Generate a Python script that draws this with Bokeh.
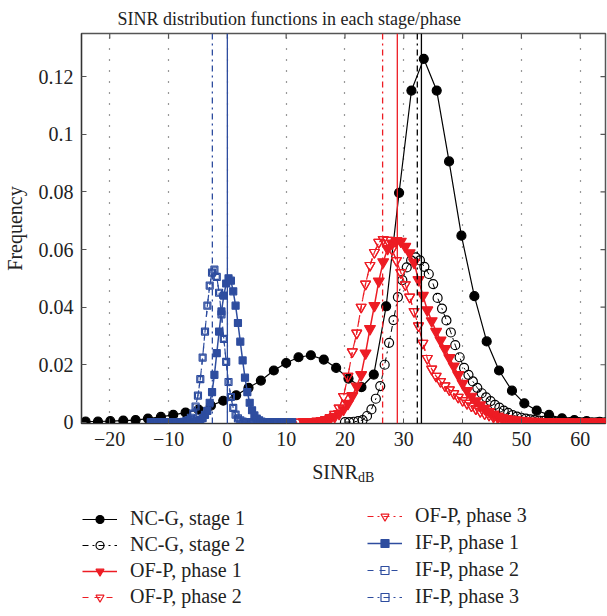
from bokeh.plotting import figure
from bokeh.layouts import column
from bokeh.models import Range1d, Span, Legend, LegendItem, Label, FixedTicker
from bokeh.embed import file_html
from bokeh.resources import INLINE

FONT = "Liberation Serif"
BLACK = "#000000"
RED = "#ED1C24"
BLUE = "#2E4D9F"
TXT = "#222222"

# ---------------- data ----------------
title_text = "SINR distribution functions in each stage/phase"
x_title = "SINR"
x_title_sub = "dB"
y_title = "Frequency"
x_ticks = [-20, -10, 0, 10, 20, 30, 40, 50, 60]
x_tick_labels = ["\u221220", "\u221210", "0", "10", "20", "30", "40", "50", "60"]
y_ticks = [0, 0.02, 0.04, 0.06, 0.08, 0.1, 0.12]
y_tick_labels = ["0", "0.02", "0.04", "0.06", "0.08", "0.1", "0.12"]

series_names = ["NC-G, stage 1", "NC-G, stage 2", "OF-P, phase 1", "OF-P, phase 2",
                "OF-P, phase 3", "IF-P, phase 1", "IF-P, phase 2", "IF-P, phase 3"]
# mean value lines (phase 2 lines coincide with phase 3 lines)
mean_values = [33.0, 32.3, 28.9, 26.4, 26.4, 0.0, -2.55, -2.55]

ncg1_x = [-24.1, -22.0, -19.9, -17.7, -15.6, -13.5, -11.3, -9.2, -7.1, -4.9, -2.8, -0.7, 1.5, 3.6,
          5.7, 7.9, 10.0, 12.1, 14.2, 16.4, 18.5, 20.6, 22.8, 24.9, 27.0, 29.2, 31.3, 33.4, 35.6,
          37.7, 39.8, 42.0, 44.1, 46.2, 48.4, 50.5, 52.6, 54.7, 56.9, 59.0, 61.1, 63.3, 65.4]
ncg1_y = [0.0003, 0.0003, 0.0004, 0.0006, 0.0008, 0.0013, 0.0019, 0.0026, 0.0034, 0.0044, 0.0058,
          0.0075, 0.0094, 0.0120, 0.0145, 0.0180, 0.0206, 0.0226, 0.0233, 0.0218, 0.0189, 0.0152,
          0.0122, 0.0166, 0.0403, 0.0797, 0.1152, 0.1262, 0.1152, 0.0906, 0.0648, 0.0438, 0.0281,
          0.0180, 0.0110, 0.0066, 0.0041, 0.0026, 0.0014, 0.0008, 0.0004, 0.0002, 0.0001]

ncg2_x = [20.0, 20.75, 21.5, 22.25, 23.0, 23.75, 24.5, 25.25, 26.0, 26.75, 27.5, 28.25, 29.0, 29.75,
          30.5, 31.25, 32.0, 32.75, 33.5, 34.25, 35.0, 35.75, 36.5, 37.25, 38.0, 38.75, 39.5, 40.25,
          41.0, 41.75, 42.5, 43.25, 44.0, 44.75, 45.5, 46.25, 47.0, 47.75, 48.5, 49.25, 50.0, 50.75,
          51.5, 52.25, 53.0, 53.75, 54.5, 55.25, 56.0, 56.75, 57.5, 58.25, 59.0, 59.75, 60.5, 61.25,
          62.0, 62.75, 63.5, 64.25]
ncg2_y = [0.0001, 0.0001, 0.0002, 0.0004, 0.0008, 0.0022, 0.0045, 0.0082, 0.0126, 0.0200, 0.0276,
          0.0355, 0.0435, 0.0494, 0.0538, 0.0562, 0.0573, 0.0562, 0.0540, 0.0515, 0.0480, 0.0432,
          0.0395, 0.0354, 0.0312, 0.0268, 0.0226, 0.0189, 0.0165, 0.0142, 0.0120, 0.0101, 0.0087,
          0.0074, 0.0061, 0.0051, 0.0041, 0.0033, 0.0025, 0.0020, 0.0016, 0.0013, 0.0010, 0.0008,
          0.0006, 0.0005, 0.0004, 0.0003, 0.0002, 0.0002, 0.0001, 0.0001, 0.0001, 0.0001, 0.0,
          0.0, 0.0, 0.0, 0.0, 0.0]

ofp1_x = [13.0, 13.75, 14.5, 15.25, 16.0, 16.75, 17.5, 18.25, 19.0, 19.75, 20.5, 21.25, 22.0, 22.75,
          23.5, 24.25, 25.0, 25.75, 26.5, 27.25, 28.0, 28.75, 29.5, 30.25, 31.0, 31.75, 32.5, 33.25,
          34.0, 34.75, 35.5, 36.25, 37.0, 37.75, 38.5, 39.25, 40.0, 40.75, 41.5, 42.25, 43.0, 43.75,
          44.5, 45.25, 46.0, 46.75, 47.5, 48.25, 49.0, 49.75, 50.5, 51.25, 52.0, 52.75, 53.5, 54.25,
          55.0, 55.75, 56.5, 57.25, 58.0, 58.75, 59.5, 60.25, 61.0, 61.75, 62.5, 63.25, 64.0, 64.75]
ofp1_y = [0.0001, 0.0001, 0.0002, 0.0003, 0.0005, 0.0008, 0.0013, 0.0020, 0.0030, 0.0045, 0.0065,
          0.0092, 0.0125, 0.0165, 0.0240, 0.0325, 0.0405, 0.0490, 0.0557, 0.0603, 0.0622, 0.0630,
          0.0628, 0.0610, 0.0588, 0.0555, 0.0495, 0.0440, 0.0390, 0.0352, 0.0315, 0.0285, 0.0255,
          0.0224, 0.0195, 0.0165, 0.0135, 0.0110, 0.0090, 0.0074, 0.0060, 0.0048, 0.0037, 0.0028,
          0.0021, 0.0016, 0.0012, 0.0010, 0.0008, 0.0006, 0.0005, 0.0004, 0.0003, 0.0003, 0.0002,
          0.0002, 0.0001, 0.0001, 0.0001, 0.0001, 0.0001, 0.0, 0.0, 0.0, 0.0, 0.0, 0.0, 0.0, 0.0, 0.0]

ofp2_x = [12.25, 13.0, 13.75, 14.5, 15.25, 16.0, 16.75, 17.5, 18.25, 19.0, 19.75, 20.5, 21.25, 22.0,
          22.75, 23.5, 24.25, 25.0, 25.75, 26.5, 27.25, 28.0, 28.75, 29.5, 30.25, 31.0, 31.75, 32.5,
          33.25, 34.0, 34.75, 35.5, 36.25, 37.0, 37.75, 38.5, 39.25, 40.0, 40.75, 41.5, 42.25, 43.0,
          43.75, 44.5, 45.25, 46.0, 46.75, 47.5, 48.25, 49.0, 49.75, 50.5, 51.25, 52.0, 52.75, 53.5,
          54.25, 55.0, 55.75, 56.5, 57.25, 58.0, 58.75, 59.5, 60.25, 61.0, 61.75, 62.5, 63.25, 64.0,
          64.75]
ofp2_y = [0.0001, 0.0001, 0.0002, 0.0003, 0.0004, 0.0006, 0.0010, 0.0017, 0.0028, 0.0050, 0.0090,
          0.0160, 0.0245, 0.0310, 0.0400, 0.0480, 0.0545, 0.0590, 0.0625, 0.0635, 0.0632, 0.0600,
          0.0562, 0.0520, 0.0478, 0.0435, 0.0385, 0.0335, 0.0275, 0.0222, 0.0185, 0.0160, 0.0142,
          0.0127, 0.0113, 0.0100, 0.0087, 0.0076, 0.0066, 0.0057, 0.0047, 0.0038, 0.0030, 0.0025,
          0.0019, 0.0015, 0.0012, 0.0009, 0.0007, 0.0005, 0.0004, 0.0003, 0.0002, 0.0002, 0.0001,
          0.0001, 0.0001, 0.0001, 0.0001, 0.0, 0.0, 0.0, 0.0, 0.0, 0.0, 0.0, 0.0, 0.0, 0.0, 0.0, 0.0]

ofp3_x = list(ofp2_x)
ofp3_y = [0.0001, 0.0001, 0.0002, 0.0003, 0.0004, 0.0006, 0.0010, 0.0017, 0.0028, 0.0050, 0.0090,
          0.0160, 0.0245, 0.0310, 0.0400, 0.0480, 0.0545, 0.0590, 0.0625, 0.0635, 0.0632, 0.0600,
          0.0562, 0.0520, 0.0478, 0.0435, 0.0385, 0.0335, 0.0275, 0.0222, 0.0185, 0.0160, 0.0142,
          0.0127, 0.0113, 0.0100, 0.0087, 0.0076, 0.0066, 0.0057, 0.0047, 0.0038, 0.0030, 0.0025,
          0.0019, 0.0015, 0.0012, 0.0009, 0.0007, 0.0005, 0.0004, 0.0003, 0.0002, 0.0002, 0.0001,
          0.0001, 0.0001, 0.0001, 0.0001, 0.0, 0.0, 0.0, 0.0, 0.0, 0.0, 0.0, 0.0, 0.0, 0.0, 0.0, 0.0]

ifp_x = [-13.0, -12.6, -12.2, -11.8, -11.4, -11.0, -10.6, -10.2, -9.8, -9.4, -9.0, -8.6, -8.2, -7.8,
         -7.4, -7.0, -6.6, -6.2, -5.8, -5.4, -5.0, -4.6, -4.2, -3.8, -3.4, -3.0, -2.6, -2.2, -1.8,
         -1.4, -1.0, -0.6, -0.2, 0.2, 0.6, 1.0, 1.4, 1.8, 2.2, 2.6, 3.0, 3.4, 3.8, 4.2, 4.6, 5.0,
         5.4, 5.8, 6.2, 6.6, 7.0, 7.4, 7.8, 8.2, 8.6, 9.0, 9.4, 9.8, 10.2, 10.6, 11.0]
ifp1_y = [0.0, 0.0, 0.0, 0.0, 0.0, 0.0, 0.0, 0.0, 0.0, 0.0, 0.0, 0.0, 0.0, 0.0, 0.0, 0.0, 0.0, 0.0,
          0.0, 0.0002, 0.0004, 0.0008, 0.0015, 0.0026, 0.0040, 0.0068, 0.0105, 0.0165, 0.0240,
          0.0315, 0.0385, 0.0440, 0.0482, 0.0500, 0.0492, 0.0455, 0.0405, 0.0345, 0.0280, 0.0215,
          0.0155, 0.0105, 0.0068, 0.0042, 0.0024, 0.0013, 0.0007, 0.0003, 0.0001, 0.0, 0.0, 0.0,
          0.0, 0.0, 0.0, 0.0, 0.0, 0.0, 0.0, 0.0, 0.0]
ifp2_y = [0.0, 0.0, 0.0, 0.0, 0.0, 0.0, 0.0, 0.0, 0.0, 0.0, 0.0, 0.0, 0.0, 0.0, 0.0002, 0.0004,
          0.0008, 0.0016, 0.0030, 0.0055, 0.0093, 0.0150, 0.0225, 0.0315, 0.0405, 0.0475, 0.0520,
          0.0530, 0.0505, 0.0450, 0.0375, 0.0290, 0.0210, 0.0140, 0.0088, 0.0050, 0.0027, 0.0014,
          0.0007, 0.0003, 0.0001, 0.0, 0.0, 0.0, 0.0, 0.0, 0.0, 0.0, 0.0, 0.0, 0.0, 0.0, 0.0, 0.0,
          0.0, 0.0, 0.0, 0.0, 0.0, 0.0, 0.0]
ifp3_y = list(ifp2_y)

series_data = [(ncg1_x, ncg1_y), (ncg2_x, ncg2_y), (ofp1_x, ofp1_y), (ofp2_x, ofp2_y),
               (ofp3_x, ofp3_y), (ifp_x, ifp1_y), (ifp_x, ifp2_y), (ifp_x, ifp3_y)]

# styles: color, line dash, marker, size, filled, line width
styles = [
    (BLACK, "solid", "circle", 9, True, 1.2),
    (BLACK, "dashdot", "circle", 9, False, 1.0),
    (RED, "solid", "inverted_triangle", 11, True, 1.5),
    (RED, "dashed", "inverted_triangle", 10, False, 1.2),
    (RED, "dashdot", "inverted_triangle", 10, False, 1.2),
    (BLUE, "solid", "square", 7, True, 1.5),
    (BLUE, "dashed", "square", 5, False, 1.2),
    (BLUE, "dashdot", "square", 7, False, 1.2),
]

# ---------------- geometry ----------------
W = 607
FRAME_LEFT, FRAME_RIGHT, FRAME_TOP, FRAME_H, BOTTOM = 81, 2, 33, 390, 33
H1 = FRAME_TOP + FRAME_H + BOTTOM
H2 = 616 - H1
XR = (-24.8, 64.3)
YR = (-0.0004, 0.135)

p = figure(width=W, height=H1, output_backend="svg", toolbar_location=None,
           x_range=Range1d(*XR), y_range=Range1d(*YR),
           min_border_left=FRAME_LEFT, min_border_right=FRAME_RIGHT,
           min_border_top=FRAME_TOP, min_border_bottom=BOTTOM)
p.background_fill_color = None
p.border_fill_color = "white"
p.outline_line_color = "#555555"
p.outline_line_width = 1.5

p.title.text = title_text
p.title.align = "left"
p.title.offset = 36
p.title.text_font = FONT
p.title.text_font_size = "18px"
p.title.text_font_style = "normal"
p.title.text_color = TXT
p.title.standoff = 9

for ax in (p.xaxis[0], p.yaxis[0]):
    ax.axis_line_color = "#333333"
    ax.axis_line_width = 1.2
    ax.major_tick_in = 5
    ax.major_tick_out = 0
    ax.major_tick_line_color = "#555555"
    ax.minor_tick_line_color = None
    ax.major_label_text_font = FONT
    ax.major_label_text_font_size = "20px"
    ax.major_label_text_color = TXT

p.xaxis.ticker = FixedTicker(ticks=x_ticks)
p.xaxis.major_label_overrides = {t: l for t, l in zip(x_ticks, x_tick_labels)}
p.xaxis.major_label_standoff = 8
p.yaxis.ticker = FixedTicker(ticks=y_ticks)
p.yaxis.major_label_overrides = {t: l for t, l in zip(y_ticks, y_tick_labels)}
p.yaxis.major_label_standoff = 8
p.yaxis.axis_label = y_title
p.yaxis.axis_label_text_font = FONT
p.yaxis.axis_label_text_font_size = "20px"
p.yaxis.axis_label_text_font_style = "normal"
p.yaxis.axis_label_text_color = TXT
p.yaxis.axis_label_standoff = 10

p.xgrid.ticker = FixedTicker(ticks=x_ticks)
p.xgrid.grid_line_color = "#333333"
p.xgrid.grid_line_dash = "1 10"
p.xgrid.grid_line_width = 1.2
p.ygrid.visible = False

# inward ticks on the top and right frame edges (derived from the tick lists)
frame_w = W - FRAME_LEFT - FRAME_RIGHT
tick_dy = 5 * (YR[1] - YR[0]) / FRAME_H
tick_dx = 5 * (XR[1] - XR[0]) / frame_w
p.segment(x0=x_ticks, y0=[YR[1]] * len(x_ticks), x1=x_ticks, y1=[YR[1] - tick_dy] * len(x_ticks),
          line_color="#555555", line_width=1.2)
p.segment(x0=[XR[1]] * len(y_ticks), y0=y_ticks, x1=[XR[1] - tick_dx] * len(y_ticks), y1=y_ticks,
          line_color="#555555", line_width=1.2)

# ---------------- series ----------------
for (xs, ys), (c, dash, mk, sz, filled, lw) in zip(series_data, styles):
    p.line(xs, ys, line_color=c, line_width=lw, line_dash=dash)
    p.scatter(xs, ys, marker=mk, size=sz, line_color=c, line_width=1.2,
              fill_color=c if filled else "white", fill_alpha=1.0 if filled else 0.0)

for m, (c, dash, mk, sz, filled, lw) in zip(mean_values, styles):
    if dash == "dashed":
        continue  # hidden under the coincident phase-3 line
    p.add_layout(Span(location=m, dimension="height", line_color=c, line_width=1.3, line_dash=dash))

# ---------------- lower panel: x title and legend ----------------
# the column aligns this panel's frame with the chart frame (x from FRAME_LEFT to W-FRAME_RIGHT)
q = figure(width=W, height=H2, output_backend="svg", toolbar_location=None,
           x_range=Range1d(FRAME_LEFT, W - FRAME_RIGHT), y_range=Range1d(0, H2),
           x_axis_type=None, y_axis_type=None,
           min_border_left=FRAME_LEFT, min_border_right=FRAME_RIGHT, min_border_top=0,
           min_border_bottom=0)
q.outline_line_color = None
q.background_fill_color = None
q.border_fill_color = "white"
q.grid.visible = False
q.extra_y_ranges = {"hidden": Range1d(1, 2)}

q.add_layout(Label(x=311.7, y=H2 - 15, text=x_title, text_font=FONT, text_font_size="20px",
                   text_color=TXT, text_baseline="middle", text_align="left"))
q.add_layout(Label(x=357.5, y=H2 - 21, text=x_title_sub, text_font=FONT, text_font_size="14px",
                   text_color=TXT, text_baseline="middle", text_align="left"))

items = []
for name, (xs, ys), (c, dash, mk, sz, filled, lw) in zip(series_names, series_data, styles):
    lr = q.line(xs, ys, line_color=c, line_width=lw, line_dash=dash, y_range_name="hidden")
    sr = q.scatter(xs, ys, marker=mk, size=sz, line_color=c, line_width=1.2,
                   fill_color=c if filled else "white", fill_alpha=1.0 if filled else 0.0,
                   y_range_name="hidden")
    items.append(LegendItem(label=name, renderers=[lr, sr]))


def make_legend(its, loc, spacing):
    return Legend(items=its, location=loc, orientation="vertical", spacing=spacing,
                  padding=0, margin=0, glyph_width=35, glyph_height=20, label_height=20,
                  label_standoff=13, label_text_font=FONT, label_text_font_size="20px",
                  label_text_color=TXT, label_text_baseline="middle",
                  border_line_color=None, background_fill_alpha=0.0)


q.add_layout(make_legend(items[:4], (1, 8), 3))
q.add_layout(make_legend(items[4:], (286, 8), 4))

layout = column(p, q, spacing=0)
open("out.html", "w").write(file_html(layout, INLINE))
